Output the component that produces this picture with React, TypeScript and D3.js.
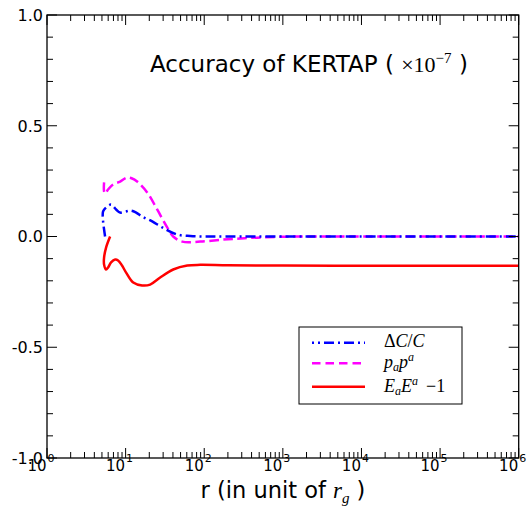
import React from "react";
import * as d3 from "d3";

// Data (r in units of r_g, value in units of 1e-7)
const blueR = [5.48, 5.32, 5.17, 5.17, 5.64, 6.53, 7.57, 8.51, 10.1, 11.7, 13.6, 16.2, 21.8, 29.2, 45.3, 66.4, 89, 200, 1000, 1e4, 1e5, 1e6];
const blueV = [0.0, 0.032, 0.068, 0.113, 0.131, 0.144, 0.122, 0.108, 0.113, 0.117, 0.108, 0.09, 0.068, 0.041, 0.009, 0.002, 0.0, 0.0, 0.0, 0.0, 0.0, 0.0];

const pinkR = [5.32, 5.32, 5.48, 5.98, 6.93, 8.51, 10.4, 12.1, 14.0, 18.8, 25.2, 33.8, 40.3, 52.5, 89, 175, 288, 520, 1670, 1e4, 1e5, 1e6];
const pinkV = [0.244, 0.203, 0.194, 0.212, 0.235, 0.248, 0.266, 0.262, 0.248, 0.199, 0.122, 0.041, 0.0, -0.023, -0.023, -0.014, -0.009, -0.004, 0.0, 0.0, 0.0, 0.0];

const redR = [6.35, 5.64, 5.32, 5.32, 5.64, 5.98, 6.53, 7.36, 8.02, 9.0, 10.15, 12.5, 16.2, 20.5, 27.5, 40.3, 60.8, 89, 200, 1000, 1e4, 1e5, 1e6];
const redV = [0.0, -0.05, -0.095, -0.126, -0.149, -0.14, -0.117, -0.104, -0.108, -0.131, -0.163, -0.208, -0.221, -0.217, -0.185, -0.149, -0.131, -0.128, -0.13, -0.131, -0.132, -0.132, -0.132];

const yMajor = [-1.0, -0.5, 0.0, 0.5, 1.0];
const yLabels = ["-1.0", "-0.5", "0.0", "0.5", "1.0"];
const xExps = [0, 1, 2, 3, 4, 5, 6];

const W = 530, H = 514;
const L = 47, R = 518.7, T = 15, B = 458;

export default function App() {
  const x = d3.scaleLog().domain([1, 1e6]).range([L, R]);
  const y = d3.scaleLinear().domain([-1, 1]).range([B, T]);
  const line = d3
    .line<[number, number]>()
    .x((d) => x(d[0]))
    .y((d) => y(d[1]))
    .curve(d3.curveCatmullRom.alpha(0.5));
  const zip = (a: number[], b: number[]) => a.map((v, i) => [v, b[i]] as [number, number]);

  const yMinor = d3.range(-10, 11).map((i) => i / 10).filter((v) => Math.abs(Math.round(v * 10) % 5) !== 0);
  const xMinor: number[] = [];
  for (let e = 0; e < 6; e++) for (let k = 2; k <= 9; k++) xMinor.push(k * Math.pow(10, e));

  const mathFont = "'Liberation Serif', serif";
  const sans = "'DejaVu Sans', sans-serif";

  return (
    <svg width={W} height={H} style={{ position: "absolute", left: 0, top: 0, background: "#fff" }}>
      <rect x={0} y={0} width={W} height={H} fill="#fff" />
      {/* curves */}
      <g fill="none" strokeWidth={2.5}>
        <path d={line(zip(redR, redV)) || ""} stroke="#ff0000" />
        <path d={line(zip(pinkR, pinkV)) || ""} stroke="#ff00ff" strokeDasharray="9.5,4.5" />
        <path d={line(zip(blueR, blueV)) || ""} stroke="#0000ff" strokeDasharray="10,4,2,4" />
      </g>
      {/* frame */}
      <rect x={L} y={T} width={R - L} height={B - T} fill="none" stroke="#000" strokeWidth={1.3} />
      {/* ticks */}
      <g stroke="#000" strokeWidth={1}>
        {yMajor.map((v) => (
          <g key={"ym" + v}>
            <line x1={L} x2={L + 10} y1={y(v)} y2={y(v)} />
            <line x1={R} x2={R - 10} y1={y(v)} y2={y(v)} />
          </g>
        ))}
        {yMinor.map((v) => (
          <g key={"yn" + v}>
            <line x1={L} x2={L + 6} y1={y(v)} y2={y(v)} />
            <line x1={R} x2={R - 6} y1={y(v)} y2={y(v)} />
          </g>
        ))}
        {xExps.map((e) => (
          <g key={"xm" + e}>
            <line x1={x(Math.pow(10, e))} x2={x(Math.pow(10, e))} y1={B} y2={B - 10} />
            <line x1={x(Math.pow(10, e))} x2={x(Math.pow(10, e))} y1={T} y2={T + 10} />
          </g>
        ))}
        {xMinor.map((v) => (
          <g key={"xn" + v}>
            <line x1={x(v)} x2={x(v)} y1={B} y2={B - 6} />
            <line x1={x(v)} x2={x(v)} y1={T} y2={T + 6} />
          </g>
        ))}
      </g>
      {/* y labels */}
      <g fontFamily={sans} fontSize={16} fill="#000">
        {yMajor.map((v, i) => (
          <text key={"yl" + v} x={L - 4} y={y(v)} dy="0.36em" textAnchor="end">
            {yLabels[i]}
          </text>
        ))}
      </g>
      {/* x labels */}
      <g fontFamily={sans} fill="#000">
        {xExps.map((e) => (
          <g key={"xl" + e}>
            <text x={x(Math.pow(10, e)) - 0.5} y={471} fontSize={15} textAnchor="end">10</text>
            <text x={x(Math.pow(10, e)) + 0.5} y={462} fontSize={11} textAnchor="start">{String(e)}</text>
          </g>
        ))}
      </g>
      {/* x axis title */}
      <text x={283} y={497.5} fontFamily={sans} fontSize={22.5} textAnchor="middle" fill="#000">
        r (in unit of <tspan fontFamily={mathFont} fontStyle="italic" fontSize={23}>r</tspan>
        <tspan fontFamily={mathFont} fontStyle="italic" fontSize={15} dy={5}>g</tspan>
        <tspan dy={-5}> )</tspan>
      </text>
      {/* title */}
      <text x={150} y={71.7} fontFamily={sans} fontSize={23} fill="#000">
        Accuracy of KERTAP ({"\u00a0"}
        <tspan fontFamily={mathFont} fontSize={22}>×10</tspan>
        <tspan fontFamily={mathFont} fontSize={15} dy={-9}>−7</tspan>
        <tspan dy={9}>{"\u00a0"})</tspan>
      </text>
      {/* legend */}
      <rect x={299} y={327} width={163} height={77} fill="#fff" stroke="#000" strokeWidth={1} />
      <g strokeWidth={2.5}>
        <line x1={312} x2={365} y1={342.7} y2={342.7} stroke="#0000ff" strokeDasharray="10,4,2,4" strokeDashoffset={-12} />
        <line x1={312} x2={365} y1={363.3} y2={363.3} stroke="#ff00ff" strokeDasharray="8.5,5" />
        <line x1={312} x2={365} y1={386.7} y2={386.7} stroke="#ff0000" />
      </g>
      <g fontFamily={mathFont} fontSize={18} fill="#000">
        <text x={384} y={347}>
          Δ<tspan fontStyle="italic">C</tspan>/<tspan fontStyle="italic">C</tspan>
        </text>
        <text x={384} y={368} fontStyle="italic">
          p<tspan fontSize={12} dy={3}>a</tspan>
          <tspan dy={-3}>p</tspan>
          <tspan fontSize={12} dy={-7}>a</tspan>
        </text>
        <text x={384} y={392}>
          <tspan fontStyle="italic">E</tspan>
          <tspan fontStyle="italic" fontSize={12} dy={3}>a</tspan>
          <tspan fontStyle="italic" dy={-3}>E</tspan>
          <tspan fontStyle="italic" fontSize={12} dy={-7}>a</tspan>
          <tspan dy={7} dx={8}>−1</tspan>
        </text>
      </g>
    </svg>
  );
}
